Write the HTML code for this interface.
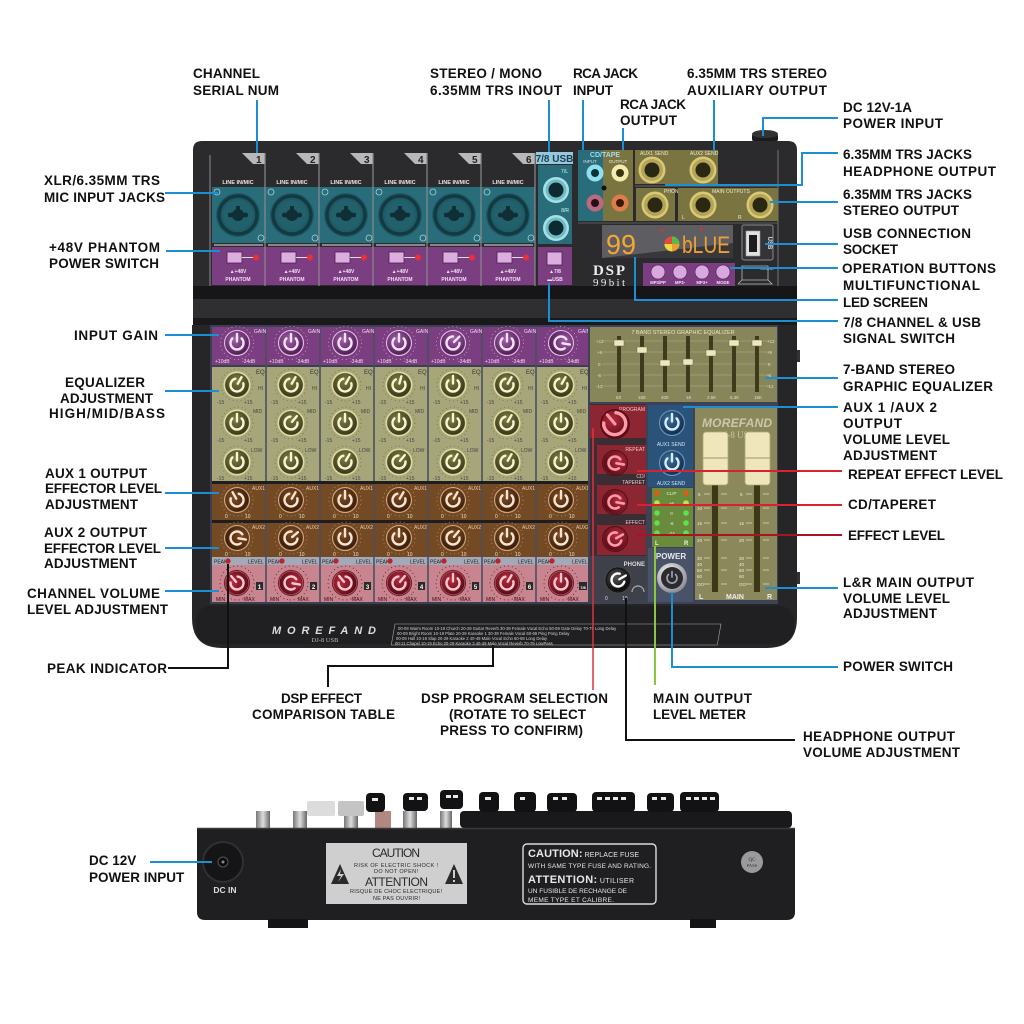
<!DOCTYPE html>
<html><head><meta charset="utf-8">
<style>
html,body{margin:0;padding:0;background:#fff;}
svg{display:block;}
.l{font-family:"Liberation Sans",Arial,sans-serif;font-weight:bold;font-size:13.5px;fill:#111;}
.c{font-family:"Liberation Sans",Arial,sans-serif;font-weight:bold;font-size:13.5px;fill:#111;}
.s{font-family:"Liberation Sans",Arial,sans-serif;font-size:5px;}
.sb{font-family:"Liberation Sans",Arial,sans-serif;font-size:6px;font-weight:bold;}
</style></head><body>
<svg width="1024" height="1024" viewBox="0 0 1024 1024" xmlns="http://www.w3.org/2000/svg" xmlns:xlink="http://www.w3.org/1999/xlink">
<defs>
<radialGradient id="gP" cx=".4" cy=".35" r=".7"><stop offset="0" stop-color="#a062a8"/><stop offset="1" stop-color="#4a1c50"/></radialGradient>
<radialGradient id="gE" cx=".4" cy=".35" r=".7"><stop offset="0" stop-color="#7c7c4a"/><stop offset="1" stop-color="#35351a"/></radialGradient>
<radialGradient id="gA" cx=".4" cy=".35" r=".7"><stop offset="0" stop-color="#7e4e26"/><stop offset="1" stop-color="#351c0a"/></radialGradient>
<radialGradient id="gL" cx=".4" cy=".35" r=".7"><stop offset="0" stop-color="#b82c3e"/><stop offset="1" stop-color="#560a16"/></radialGradient>
<radialGradient id="gB" cx=".4" cy=".35" r=".7"><stop offset="0" stop-color="#3c6e9e"/><stop offset="1" stop-color="#102c4a"/></radialGradient>
<radialGradient id="gK" cx=".4" cy=".35" r=".7"><stop offset="0" stop-color="#555"/><stop offset="1" stop-color="#050505"/></radialGradient>
<radialGradient id="gS" cx=".4" cy=".35" r=".75"><stop offset="0" stop-color="#ffffff"/><stop offset="1" stop-color="#7c7c84"/></radialGradient>
<linearGradient id="jk" x1="0" y1="0" x2="1" y2="0"><stop offset="0" stop-color="#777"/><stop offset=".5" stop-color="#ddd"/><stop offset="1" stop-color="#666"/></linearGradient>

<g id="kG">
<circle r="16.5" fill="none" stroke="#d8b0e0" stroke-width=".7" stroke-dasharray="1 3"/>
<circle r="12.5" fill="none" stroke="#e6c4ea" stroke-width="1"/>
<circle r="11.5" fill="url(#gP)"/>
<path d="M-4.6,-4.6A6.5,6.5 0 1 0 4.6,-4.6" fill="none" stroke="#fbe0fc" stroke-width="2.4" stroke-linecap="round"/>
<path d="M0,-1.5V-9" stroke="#fbe0fc" stroke-width="2.4" stroke-linecap="round"/>
</g>
<g id="kE">
<circle r="16" fill="none" stroke="#6b6a40" stroke-width=".7" stroke-dasharray="1 3"/>
<circle r="12.8" fill="none" stroke="#e2dea0" stroke-width="1.3"/>
<circle r="11.8" fill="url(#gE)"/>
<path d="M-4.6,-4.6A6.5,6.5 0 1 0 4.6,-4.6" fill="none" stroke="#fbf6c8" stroke-width="2.4" stroke-linecap="round"/>
<path d="M0,-1.5V-9" stroke="#fbf6c8" stroke-width="2.4" stroke-linecap="round"/>
</g>
<g id="kA">
<circle r="16" fill="none" stroke="#c89870" stroke-width=".7" stroke-dasharray="1 3"/>
<circle r="12.5" fill="none" stroke="#d8a880" stroke-width="1"/>
<circle r="11.5" fill="url(#gA)"/>
<path d="M-4.6,-4.6A6.5,6.5 0 1 0 4.6,-4.6" fill="none" stroke="#fde2cc" stroke-width="2.4" stroke-linecap="round"/>
<path d="M0,-1.5V-9" stroke="#fde2cc" stroke-width="2.4" stroke-linecap="round"/>
</g>
<g id="kL">
<circle r="17" fill="none" stroke="#5a1a22" stroke-width=".8" stroke-dasharray="1 3"/>
<circle r="12.5" fill="none" stroke="#7a2030" stroke-width="1.2"/>
<circle r="11.5" fill="url(#gL)"/>
<path d="M-4.6,-4.6A6.5,6.5 0 1 0 4.6,-4.6" fill="none" stroke="#ffc8d0" stroke-width="2.4" stroke-linecap="round"/>
<path d="M0,-1.5V-9" stroke="#ffc8d0" stroke-width="2.4" stroke-linecap="round"/>
</g>
<g id="kR">
<circle r="12.5" fill="none" stroke="#5a1018" stroke-width="1.2"/>
<circle r="11.5" fill="url(#gL)"/>
<path d="M-4.6,-4.6A6.5,6.5 0 1 0 4.6,-4.6" fill="none" stroke="#ff9aa8" stroke-width="2.6" stroke-linecap="round"/>
<path d="M0,-1.5V-9" stroke="#ff9aa8" stroke-width="2.6" stroke-linecap="round"/>
</g>
<g id="kB">
<circle r="12.5" fill="none" stroke="#6a96c0" stroke-width="1"/>
<circle r="11.5" fill="url(#gB)"/>
<path d="M-4.6,-4.6A6.5,6.5 0 1 0 4.6,-4.6" fill="none" stroke="#d8ecff" stroke-width="2.4" stroke-linecap="round"/>
<path d="M0,-1.5V-9" stroke="#d8ecff" stroke-width="2.4" stroke-linecap="round"/>
</g>
<g id="xlr">
<circle r="22" fill="#1f5a65"/>
<circle r="19" fill="none" stroke="#133a42" stroke-width="3.5"/>
<circle r="15" fill="#22606c"/>
<circle r="6" fill="#0f2e35"/>
<rect x="-10" y="-2.2" width="20" height="4.4" rx="2" fill="#0f2e35"/>
<rect x="-2" y="-9" width="4" height="6" fill="#0f2e35"/>
</g>
<g id="trs">
<circle r="13.5" fill="#d8c878"/>
<circle r="11" fill="#b4a455"/>
<circle r="7.5" fill="#2a2812"/>
</g>
<g id="trsB">
<circle r="13" fill="#a8dee6"/>
<circle r="10.5" fill="#6cbcc8"/>
<circle r="7.5" fill="#0d2a30"/>
</g>
</defs>

<rect width="1024" height="1024" fill="#fff"/>

<!-- ============ TOP VIEW UPPER BODY ============ -->
<rect x="752" y="133" width="26" height="9" rx="3" fill="#1b1b1d"/>
<ellipse cx="765" cy="134" rx="13" ry="4" fill="#333"/>
<path d="M193,150 Q193,141 202,141 L788,141 Q797,141 797,150 L797,290 L193,290 Z" fill="#2b2b2e"/>
<line x1="210" y1="155" x2="210" y2="287" stroke="#6c6c70" stroke-width="1.5"/>
<line x1="778" y1="150" x2="778" y2="287" stroke="#5c5c60" stroke-width="1.5"/>

<!-- channel tabs -->
<g fill="#b8b8b8">
<polygon points="242,153 265,153 265,164 253,164"/>
<polygon points="296,153 319,153 319,164 307,164"/>
<polygon points="350,153 373,153 373,164 361,164"/>
<polygon points="404,153 427,153 427,164 415,164"/>
<polygon points="458,153 481,153 481,164 469,164"/>
<polygon points="512,153 535,153 535,164 523,164"/>
</g>
<g class="sb" fill="#222" style="font-size:10px">
<text x="256" y="163">1</text><text x="310" y="163">2</text><text x="364" y="163">3</text><text x="418" y="163">4</text><text x="472" y="163">5</text><text x="526" y="163">6</text>
</g>
<g class="sb" fill="#e8e8e8" text-anchor="middle" style="font-size:5.5px">
<text x="238" y="184">LINE IN/MIC</text><text x="292" y="184">LINE IN/MIC</text><text x="346" y="184">LINE IN/MIC</text><text x="400" y="184">LINE IN/MIC</text><text x="454" y="184">LINE IN/MIC</text><text x="508" y="184">LINE IN/MIC</text>
</g>
<rect x="212" y="187" width="323" height="56" fill="#2a6d7a"/>
<use href="#xlr" x="238" y="215"/><use href="#xlr" x="292" y="215"/><use href="#xlr" x="346" y="215"/><use href="#xlr" x="400" y="215"/><use href="#xlr" x="454" y="215"/><use href="#xlr" x="508" y="215"/>
<g fill="none" stroke="#a8d4da" stroke-width=".8">
<circle cx="217" cy="192" r="3"/><circle cx="261" cy="238" r="3"/>
<circle cx="271" cy="192" r="3"/><circle cx="315" cy="238" r="3"/>
<circle cx="325" cy="192" r="3"/><circle cx="369" cy="238" r="3"/>
<circle cx="379" cy="192" r="3"/><circle cx="423" cy="238" r="3"/>
<circle cx="433" cy="192" r="3"/><circle cx="477" cy="238" r="3"/>
<circle cx="487" cy="192" r="3"/><circle cx="531" cy="238" r="3"/>
</g>
<rect x="212" y="247" width="323" height="38" fill="#7b3e80"/>
<g stroke="#a8a8a8" stroke-width="1.5">
<line x1="214" y1="245" x2="263" y2="245"/><line x1="268" y1="245" x2="317" y2="245"/><line x1="322" y1="245" x2="371" y2="245"/><line x1="376" y1="245" x2="425" y2="245"/><line x1="430" y1="245" x2="479" y2="245"/><line x1="484" y1="245" x2="533" y2="245"/>
</g>
<g stroke="#8a8a8e" stroke-width="1.2">
<line x1="265" y1="153" x2="265" y2="286"/><line x1="319" y1="153" x2="319" y2="286"/><line x1="373" y1="153" x2="373" y2="286"/><line x1="427" y1="153" x2="427" y2="286"/><line x1="481" y1="153" x2="481" y2="286"/><line x1="535" y1="153" x2="535" y2="286"/>
</g>
<g fill="#dcaee0" stroke="#4a2050" stroke-width=".8">
<rect x="227" y="252" width="15" height="11"/><rect x="281" y="252" width="15" height="11"/><rect x="335" y="252" width="15" height="11"/><rect x="389" y="252" width="15" height="11"/><rect x="443" y="252" width="15" height="11"/><rect x="497" y="252" width="15" height="11"/>
</g>
<g stroke="#ddd" stroke-width="1">
<line x1="242" y1="257.5" x2="254" y2="257.5"/><line x1="296" y1="257.5" x2="308" y2="257.5"/><line x1="350" y1="257.5" x2="362" y2="257.5"/><line x1="404" y1="257.5" x2="416" y2="257.5"/><line x1="458" y1="257.5" x2="470" y2="257.5"/><line x1="512" y1="257.5" x2="524" y2="257.5"/>
</g>
<g fill="#e8303a">
<circle cx="256" cy="257.5" r="3"/><circle cx="310" cy="257.5" r="3"/><circle cx="364" cy="257.5" r="3"/><circle cx="418" cy="257.5" r="3"/><circle cx="472" cy="257.5" r="3"/><circle cx="526" cy="257.5" r="3"/>
</g>
<g class="sb" fill="#f0e0f2" text-anchor="middle" style="font-size:5px">
<text x="238" y="273">▲+48V</text><text x="292" y="273">▲+48V</text><text x="346" y="273">▲+48V</text><text x="400" y="273">▲+48V</text><text x="454" y="273">▲+48V</text><text x="508" y="273">▲+48V</text>
<text x="238" y="281">PHANTOM</text><text x="292" y="281">PHANTOM</text><text x="346" y="281">PHANTOM</text><text x="400" y="281">PHANTOM</text><text x="454" y="281">PHANTOM</text><text x="508" y="281">PHANTOM</text>
</g>

<!-- 7/8 USB column -->
<rect x="536" y="152" width="37" height="12" fill="#94c8da"/>
<text x="554.5" y="162" class="sb" text-anchor="middle" fill="#1b3f55" style="font-size:10px">7/8 USB</text>
<rect x="538" y="165" width="34" height="79" fill="#2a6d7a"/>
<use href="#trsB" x="556" y="190"/><use href="#trsB" x="556" y="228"/>
<text x="568" y="173" class="s" fill="#cfe" text-anchor="end">7/L</text>
<text x="569" y="212" class="s" fill="#cfe" text-anchor="end">8/R</text>
<rect x="538" y="247" width="34" height="38" fill="#7b3e80"/>
<rect x="547" y="252" width="15" height="13" fill="#dcaee0" stroke="#4a2050" stroke-width=".8"/>
<text x="555" y="273" class="sb" text-anchor="middle" fill="#f0e0f2" style="font-size:5px">▲7/8</text>
<text x="555" y="281" class="sb" text-anchor="middle" fill="#f0e0f2" style="font-size:5px">▬USB</text>

<!-- CD/TAPE -->
<rect x="578" y="150" width="25" height="71" fill="#2a6d7a"/>
<rect x="603" y="150" width="30" height="71" fill="#7a7540"/>
<text x="605" y="157" class="sb" text-anchor="middle" fill="#a8d8e4" style="font-size:7px">CD/TAPE</text>
<text x="590" y="163" class="s" text-anchor="middle" fill="#dde" style="font-size:4.5px">INPUT</text>
<text x="618" y="163" class="s" text-anchor="middle" fill="#eed" style="font-size:4.5px">OUTPUT</text>
<circle cx="595" cy="173" r="8.5" fill="#8fe0ee"/><circle cx="595" cy="173" r="4" fill="#0e3038"/>
<circle cx="595" cy="203" r="8.5" fill="#b86a80"/><circle cx="595" cy="203" r="4" fill="#2a0e16"/>
<circle cx="620" cy="173" r="8.5" fill="#f3ecae"/><circle cx="620" cy="173" r="4" fill="#3a3410"/>
<circle cx="620" cy="203" r="8.5" fill="#dc7e4c"/><circle cx="620" cy="203" r="4" fill="#3a1808"/>
<circle cx="604" cy="188" r="2.5" fill="#111"/>

<!-- AUX sends / phone / main -->
<rect x="635" y="150" width="83" height="34" fill="#7a7540"/>
<use href="#trs" x="652" y="170"/><use href="#trs" x="703" y="170"/>
<text x="640" y="155" class="s" fill="#eee8c8">AUX1 SEND</text>
<text x="690" y="155" class="s" fill="#eee8c8">AUX2 SEND</text>
<line x1="635" y1="186" x2="778" y2="186" stroke="#6a6a6e" stroke-width="1"/>
<rect x="636" y="188" width="39" height="33" fill="#7a7540"/>
<use href="#trs" x="655" y="205"/>
<text x="664" y="193" class="s" fill="#eee8c8">PHONE</text>
<rect x="678" y="188" width="100" height="33" fill="#7a7540"/>
<use href="#trs" x="703" y="205"/><use href="#trs" x="760" y="205"/>
<text x="712" y="193" class="s" fill="#eee8c8">MAIN OUTPUTS</text>
<text x="682" y="219" class="s" fill="#eee8c8">L</text><text x="738" y="219" class="s" fill="#eee8c8">R</text>
<line x1="578" y1="223" x2="778" y2="223" stroke="#5a5a5e" stroke-width="1"/>

<!-- display -->
<rect x="602" y="225" width="131" height="33" fill="#38383c"/>
<polygon points="602,225 733,225 733,243 602,258" fill="#5e5e62"/>
<text x="606" y="254" class="t" font-family="Liberation Sans, sans-serif" font-size="28" fill="#f4a830" textLength="30" lengthAdjust="spacingAndGlyphs">99</text>
<circle cx="672" cy="244" r="7.5" fill="#e8a030"/>
<path d="M672,244 L672,236.5 A7.5,7.5 0 0 1 679.5,244 Z" fill="#5cb848"/>
<path d="M672,244 L664.5,244 A7.5,7.5 0 0 1 672,236.5 Z" fill="#e84838"/>
<path d="M672,244 L672,251.5 A7.5,7.5 0 0 1 664.5,244 Z" fill="#f0d840"/>
<text x="682" y="253" font-family="Liberation Sans, sans-serif" font-size="24" fill="#f0a030" textLength="48" lengthAdjust="spacingAndGlyphs">bLUE</text>
<circle cx="662" cy="230" r="1.3" fill="#e03030"/><circle cx="701" cy="229" r="1.3" fill="#e03030"/>
<rect x="742" y="225" width="31" height="35" rx="2" fill="#333338" stroke="#8a8a8e" stroke-width="1"/>
<rect x="746" y="231" width="14" height="25" fill="#e0e0e0" stroke="#999" stroke-width=".6"/>
<rect x="749" y="235" width="8" height="17" fill="#1c1c1c"/>
<text x="768" y="243" class="sb" fill="#ddd" text-anchor="middle" transform="rotate(90 768 243)" style="font-size:6px">USB</text>
<text x="593" y="275" font-family="Liberation Serif, serif" font-weight="bold" font-size="15" fill="#eee" textLength="32">DSP</text>
<text x="593" y="286" font-family="Liberation Serif, serif" font-size="11" fill="#eee" textLength="32">99bit</text>
<rect x="643" y="263" width="92" height="23" fill="#7b3e80"/>
<g fill="#d8a8de" stroke="#5a2a60" stroke-width=".7">
<circle cx="658" cy="272" r="7"/><circle cx="680" cy="272" r="7"/><circle cx="702" cy="272" r="7"/><circle cx="723" cy="272" r="7"/>
</g>
<g class="sb" fill="#f2e0f4" text-anchor="middle" style="font-size:4.3px">
<text x="658" y="284">MP3/PP</text><text x="680" y="284">MP3-</text><text x="702" y="284">MP3+</text><text x="723" y="284">MODE</text>
</g>
<path d="M742,266 L768,266 L768,280 L742,280 Z M738,284 L772,284 L768,280 M742,280 L738,284" fill="none" stroke="#bbb" stroke-width=".8"/>
<text x="760" y="270" class="s" fill="#ccc" style="font-size:3.8px">SOUND</text>

<!-- lip -->
<rect x="193" y="286" width="604" height="13" fill="#161618"/>
<rect x="193" y="299" width="604" height="19" fill="#2f2f32"/>
<rect x="193" y="318" width="604" height="8" fill="#19191b"/>

<!-- ============ LOWER BODY ============ -->
<path d="M192,325 L797,325 L797,618 Q797,648 767,648 L222,648 Q192,648 192,618 Z" fill="#262629"/>
<rect x="797" y="350" width="3" height="12" fill="#333"/><rect x="797" y="572" width="3" height="12" fill="#333"/>
<rect x="210" y="325" width="380" height="279" fill="#3b4050"/>
<rect x="212" y="327" width="376" height="38" fill="#7b3e80"/>
<rect x="212" y="367" width="376" height="114" fill="#a7a67a"/>
<rect x="212" y="484" width="376" height="36" fill="#734a24"/>
<rect x="212" y="523" width="376" height="34" fill="#734a24"/>
<rect x="212" y="557" width="376" height="8" fill="#a3a9b8"/>
<rect x="212" y="565" width="376" height="37" fill="#c8848f"/>
<g stroke="#4a5060" stroke-width="1.6">
<line x1="266" y1="327" x2="266" y2="602"/><line x1="320" y1="327" x2="320" y2="602"/><line x1="374" y1="327" x2="374" y2="602"/><line x1="428" y1="327" x2="428" y2="602"/><line x1="482" y1="327" x2="482" y2="602"/><line x1="536" y1="327" x2="536" y2="602"/>
</g>
<rect x="212" y="481" width="376" height="3" fill="#1e1e20"/>
<rect x="212" y="520" width="376" height="3" fill="#1e1e20"/>

<!-- channel small labels -->
<text class="s" y="333" fill="#f0d8f2"><tspan x="254">GAIN</tspan><tspan x="308">GAIN</tspan><tspan x="362">GAIN</tspan><tspan x="416">GAIN</tspan><tspan x="470">GAIN</tspan><tspan x="524">GAIN</tspan><tspan x="578">GAIN</tspan></text>
<text class="s" y="363" fill="#f0d8f2"><tspan x="215">+10dB</tspan><tspan x="242">-34dB</tspan><tspan x="269">+10dB</tspan><tspan x="296">-34dB</tspan><tspan x="323">+10dB</tspan><tspan x="350">-34dB</tspan><tspan x="377">+10dB</tspan><tspan x="404">-34dB</tspan><tspan x="431">+10dB</tspan><tspan x="458">-34dB</tspan><tspan x="485">+10dB</tspan><tspan x="512">-34dB</tspan><tspan x="539">+10dB</tspan><tspan x="566">-34dB</tspan></text>
<text class="s" y="374" fill="#333" style="font-size:6px"><tspan x="256">EQ</tspan><tspan x="310">EQ</tspan><tspan x="364">EQ</tspan><tspan x="418">EQ</tspan><tspan x="472">EQ</tspan><tspan x="526">EQ</tspan><tspan x="580">EQ</tspan></text>
<text class="s" y="390" fill="#444"><tspan x="258">HI</tspan><tspan x="312">HI</tspan><tspan x="366">HI</tspan><tspan x="420">HI</tspan><tspan x="474">HI</tspan><tspan x="528">HI</tspan><tspan x="582">HI</tspan></text>
<text class="s" y="413" fill="#444"><tspan x="253">MID</tspan><tspan x="307">MID</tspan><tspan x="361">MID</tspan><tspan x="415">MID</tspan><tspan x="469">MID</tspan><tspan x="523">MID</tspan><tspan x="577">MID</tspan></text>
<text class="s" y="452" fill="#444"><tspan x="251">LOW</tspan><tspan x="305">LOW</tspan><tspan x="359">LOW</tspan><tspan x="413">LOW</tspan><tspan x="467">LOW</tspan><tspan x="521">LOW</tspan><tspan x="575">LOW</tspan></text>
<text class="s" y="404" fill="#444"><tspan x="217">-15</tspan><tspan x="244">+15</tspan><tspan x="271">-15</tspan><tspan x="298">+15</tspan><tspan x="325">-15</tspan><tspan x="352">+15</tspan><tspan x="379">-15</tspan><tspan x="406">+15</tspan><tspan x="433">-15</tspan><tspan x="460">+15</tspan><tspan x="487">-15</tspan><tspan x="514">+15</tspan><tspan x="541">-15</tspan><tspan x="568">+15</tspan></text>
<text class="s" y="442" fill="#444"><tspan x="217">-15</tspan><tspan x="244">+15</tspan><tspan x="271">-15</tspan><tspan x="298">+15</tspan><tspan x="325">-15</tspan><tspan x="352">+15</tspan><tspan x="379">-15</tspan><tspan x="406">+15</tspan><tspan x="433">-15</tspan><tspan x="460">+15</tspan><tspan x="487">-15</tspan><tspan x="514">+15</tspan><tspan x="541">-15</tspan><tspan x="568">+15</tspan></text>
<text class="s" y="480" fill="#444"><tspan x="217">-15</tspan><tspan x="244">+15</tspan><tspan x="271">-15</tspan><tspan x="298">+15</tspan><tspan x="325">-15</tspan><tspan x="352">+15</tspan><tspan x="379">-15</tspan><tspan x="406">+15</tspan><tspan x="433">-15</tspan><tspan x="460">+15</tspan><tspan x="487">-15</tspan><tspan x="514">+15</tspan><tspan x="541">-15</tspan><tspan x="568">+15</tspan></text>
<text class="s" y="490" fill="#e8c8a8"><tspan x="252">AUX1</tspan><tspan x="306">AUX1</tspan><tspan x="360">AUX1</tspan><tspan x="414">AUX1</tspan><tspan x="468">AUX1</tspan><tspan x="522">AUX1</tspan><tspan x="576">AUX1</tspan></text>
<text class="s" y="529" fill="#e8c8a8"><tspan x="252">AUX2</tspan><tspan x="306">AUX2</tspan><tspan x="360">AUX2</tspan><tspan x="414">AUX2</tspan><tspan x="468">AUX2</tspan><tspan x="522">AUX2</tspan><tspan x="576">AUX2</tspan></text>
<text class="s" y="518" fill="#f0dcc8"><tspan x="225">0</tspan><tspan x="245">10</tspan><tspan x="279">0</tspan><tspan x="299">10</tspan><tspan x="333">0</tspan><tspan x="353">10</tspan><tspan x="387">0</tspan><tspan x="407">10</tspan><tspan x="441">0</tspan><tspan x="461">10</tspan><tspan x="495">0</tspan><tspan x="515">10</tspan><tspan x="549">0</tspan><tspan x="569">10</tspan></text>
<text class="s" y="556" fill="#f0dcc8"><tspan x="225">0</tspan><tspan x="245">10</tspan><tspan x="279">0</tspan><tspan x="299">10</tspan><tspan x="333">0</tspan><tspan x="353">10</tspan><tspan x="387">0</tspan><tspan x="407">10</tspan><tspan x="441">0</tspan><tspan x="461">10</tspan><tspan x="495">0</tspan><tspan x="515">10</tspan><tspan x="549">0</tspan><tspan x="569">10</tspan></text>
<text class="s" y="563.5" fill="#222"><tspan x="214">PEAK</tspan><tspan x="248">LEVEL</tspan><tspan x="268">PEAK</tspan><tspan x="302">LEVEL</tspan><tspan x="322">PEAK</tspan><tspan x="356">LEVEL</tspan><tspan x="376">PEAK</tspan><tspan x="410">LEVEL</tspan><tspan x="430">PEAK</tspan><tspan x="464">LEVEL</tspan><tspan x="484">PEAK</tspan><tspan x="518">LEVEL</tspan><tspan x="538">PEAK</tspan><tspan x="572">LEVEL</tspan></text>
<text class="s" y="601" fill="#3a1018"><tspan x="216">MIN</tspan><tspan x="244">MAX</tspan><tspan x="270">MIN</tspan><tspan x="298">MAX</tspan><tspan x="324">MIN</tspan><tspan x="352">MAX</tspan><tspan x="378">MIN</tspan><tspan x="406">MAX</tspan><tspan x="432">MIN</tspan><tspan x="460">MAX</tspan><tspan x="486">MIN</tspan><tspan x="514">MAX</tspan><tspan x="540">MIN</tspan><tspan x="568">MAX</tspan></text>
<g fill="#2a2a2a">
<rect x="256" y="582" width="7" height="8"/><rect x="310" y="582" width="7" height="8"/><rect x="364" y="582" width="7" height="8"/><rect x="418" y="582" width="7" height="8"/><rect x="472" y="582" width="7" height="8"/><rect x="526" y="582" width="7" height="8"/><rect x="579" y="582" width="8" height="8"/>
</g>
<text class="sb" y="589" fill="#fff" text-anchor="middle"><tspan x="259.5">1</tspan><tspan x="313.5">2</tspan><tspan x="367.5">3</tspan><tspan x="421.5">4</tspan><tspan x="475.5">5</tspan><tspan x="529.5">6</tspan><tspan x="583" style="font-size:4px">7/8</tspan></text>
<g fill="#c0202a">
<circle cx="228" cy="561" r="2.6"/><circle cx="282" cy="561" r="2.6"/><circle cx="336" cy="561" r="2.6"/><circle cx="390" cy="561" r="2.6"/><circle cx="444" cy="561" r="2.6"/><circle cx="498" cy="561" r="2.6"/><circle cx="552" cy="561" r="2.6"/>
</g>

<!-- knobs -->
<use href="#kG" transform="translate(237,343)"/><use href="#kG" transform="translate(291,343)"/><use href="#kG" transform="translate(345,343)"/><use href="#kG" transform="translate(399,343)"/><use href="#kG" transform="translate(453,343) rotate(45)"/><use href="#kG" transform="translate(507,343)"/><use href="#kG" transform="translate(561,343) rotate(100)"/>
<use href="#kE" transform="translate(237,385) rotate(30)"/><use href="#kE" transform="translate(291,385) rotate(30)"/><use href="#kE" transform="translate(345,385) rotate(30)"/><use href="#kE" transform="translate(399,385) rotate(15)"/><use href="#kE" transform="translate(453,385)"/><use href="#kE" transform="translate(507,385) rotate(30)"/><use href="#kE" transform="translate(561,385) rotate(30)"/>
<use href="#kE" transform="translate(237,423)"/><use href="#kE" transform="translate(291,423) rotate(40)"/><use href="#kE" transform="translate(345,423)"/><use href="#kE" transform="translate(399,423)"/><use href="#kE" transform="translate(453,423)"/><use href="#kE" transform="translate(507,423) rotate(30)"/><use href="#kE" transform="translate(561,423)"/>
<use href="#kE" transform="translate(237,462)"/><use href="#kE" transform="translate(291,462)"/><use href="#kE" transform="translate(345,462) rotate(30)"/><use href="#kE" transform="translate(399,462) rotate(40)"/><use href="#kE" transform="translate(453,462) rotate(30)"/><use href="#kE" transform="translate(507,462) rotate(30)"/><use href="#kE" transform="translate(561,462)"/>
<use href="#kA" transform="translate(237,500) rotate(-30)"/><use href="#kA" transform="translate(291,500) rotate(30)"/><use href="#kA" transform="translate(345,500)"/><use href="#kA" transform="translate(399,500) rotate(30)"/><use href="#kA" transform="translate(453,500) rotate(30)"/><use href="#kA" transform="translate(507,500)"/><use href="#kA" transform="translate(561,500)"/>
<use href="#kA" transform="translate(237,538) rotate(100)"/><use href="#kA" transform="translate(291,538) rotate(50)"/><use href="#kA" transform="translate(345,538)"/><use href="#kA" transform="translate(399,538)"/><use href="#kA" transform="translate(453,538) rotate(40)"/><use href="#kA" transform="translate(507,538)"/><use href="#kA" transform="translate(561,538)"/>
<use href="#kL" transform="translate(237,583) rotate(-40)"/><use href="#kL" transform="translate(291,583) rotate(100)"/><use href="#kL" transform="translate(345,583) rotate(-40)"/><use href="#kL" transform="translate(399,583) rotate(40)"/><use href="#kL" transform="translate(453,583)"/><use href="#kL" transform="translate(507,583) rotate(30)"/><use href="#kL" transform="translate(561,583)"/>

<!-- graphic EQ -->
<rect x="588" y="325" width="190" height="279" fill="#3d4354"/>
<rect x="590" y="327" width="187" height="75" fill="#87855a"/>
<text x="683" y="334" class="s" text-anchor="middle" fill="#e8e6bc" style="font-size:5.5px">7 BAND STEREO GRAPHIC EQUALIZER</text>
<g stroke="#b5b38a" stroke-width=".6">
<line x1="602" y1="341" x2="770" y2="341"/><line x1="602" y1="352" x2="770" y2="352"/><line x1="602" y1="364" x2="770" y2="364"/><line x1="602" y1="375" x2="770" y2="375"/><line x1="602" y1="386" x2="770" y2="386"/>
</g>
<g fill="#3d3b1c">
<rect x="617" y="336" width="4" height="56"/><rect x="640" y="336" width="4" height="56"/><rect x="663" y="336" width="4" height="56"/><rect x="686" y="336" width="4" height="56"/><rect x="709" y="336" width="4" height="56"/><rect x="732" y="336" width="4" height="56"/><rect x="755" y="336" width="4" height="56"/>
</g>
<g fill="#efe7bc" stroke="#6a6a50" stroke-width=".5">
<rect x="614" y="340" width="10" height="6"/><rect x="637" y="347" width="10" height="6"/><rect x="660" y="360" width="10" height="6"/><rect x="683" y="359" width="10" height="6"/><rect x="706" y="350" width="10" height="6"/><rect x="729" y="340" width="10" height="6"/><rect x="752" y="340" width="10" height="6"/>
</g>
<g class="s" fill="#e0dec0" style="font-size:4.5px">
<text x="596" y="343">+12</text><text x="597" y="354">+6</text><text x="598" y="366">0</text><text x="597" y="377">-6</text><text x="596" y="388">-12</text>
<text x="767" y="343">+12</text><text x="767" y="354">+6</text><text x="768" y="366">0</text><text x="767" y="377">-6</text><text x="767" y="388">-12</text>
<text x="616" y="399">63</text><text x="638" y="399">160</text><text x="661" y="399">400</text><text x="686" y="399">1K</text><text x="707" y="399">2.5K</text><text x="730" y="399">6.3K</text><text x="754" y="399">16K</text>
</g>

<!-- red section -->
<rect x="590" y="404" width="56" height="198" fill="#3a2d33"/>
<rect x="590" y="405" width="56" height="33" fill="#8c2632"/>
<rect x="597" y="445" width="49" height="29" fill="#8c2632"/>
<rect x="597" y="485" width="49" height="29" fill="#8c2632"/>
<rect x="597" y="525" width="49" height="30" fill="#8c2632"/>
<g class="s" fill="#f4c4c8" text-anchor="end">
<text x="645" y="411">PROGRAM</text><text x="645" y="451">REPEAT</text><text x="645" y="478">CD/</text><text x="645" y="484">TAPERET</text><text x="645" y="524">EFFECT</text>
</g>
<circle cx="615" cy="424" r="15" fill="#5a0c16"/>
<circle cx="615" cy="424" r="13.5" fill="url(#gL)"/>
<path d="M607,416 A11,11 0 1 0 623,416" fill="none" stroke="#ff9aa8" stroke-width="3.4" stroke-linecap="round" transform="rotate(-40 615 424)"/>
<path d="M615,424 V412" stroke="#ff9aa8" stroke-width="3" stroke-linecap="round" transform="rotate(-40 615 424)"/>
<use href="#kR" transform="translate(615,463) rotate(100)"/>
<use href="#kR" transform="translate(615,502) rotate(100)"/>
<use href="#kR" transform="translate(615,539) rotate(60)"/>
<rect x="590" y="556" width="56" height="46" fill="#3e404a"/>
<text x="645" y="566" class="sb" text-anchor="end" fill="#ddd" style="font-size:6px">PHONE</text>
<circle cx="618" cy="580" r="13" fill="#1a1a1c" stroke="#555" stroke-width=".6"/>
<circle cx="618" cy="580" r="11" fill="url(#gK)"/>
<path d="M613.4,575.4A6.5,6.5 0 1 0 622.6,575.4" fill="none" stroke="#fff" stroke-width="2.4" stroke-linecap="round" transform="rotate(60 618 580)"/>
<path d="M618,578.5V571" stroke="#fff" stroke-width="2.4" stroke-linecap="round" transform="rotate(60 618 580)"/>
<path d="M632,592 A6,6 0 0 1 644,592" fill="none" stroke="#aaa" stroke-width="1.2"/>
<text class="s" y="600" fill="#ddd"><tspan x="605">0</tspan><tspan x="622">10</tspan></text>

<!-- blue -->
<rect x="648" y="405" width="45" height="82" fill="#2b5379"/>
<use href="#kB" transform="translate(672,423)"/>
<use href="#kB" transform="translate(672,463)"/>
<text class="s" x="671" y="446" text-anchor="middle" fill="#cfe4f4">AUX1 SEND</text>
<text class="s" x="671" y="485" text-anchor="middle" fill="#cfe4f4">AUX2 SEND</text>
<rect x="652" y="488" width="41" height="59" fill="#6a8a3c"/>
<g fill="#5ee050">
<circle cx="657" cy="503" r="2.8" fill="#c0e050"/><circle cx="686" cy="503" r="2.8" fill="#c0e050"/>
<circle cx="657" cy="513" r="2.8"/><circle cx="686" cy="513" r="2.8"/>
<circle cx="657" cy="523" r="2.8"/><circle cx="686" cy="523" r="2.8"/>
<circle cx="657" cy="533" r="2.8"/><circle cx="686" cy="533" r="2.8"/>
</g>
<circle cx="657" cy="493" r="2.8" fill="#e05a1a"/><circle cx="686" cy="493" r="2.8" fill="#e05a1a"/>
<g class="s" text-anchor="middle" fill="#e8f0d8" style="font-size:4.5px">
<text x="671.5" y="495">CLIP</text><text x="671.5" y="505">+6</text><text x="671.5" y="515">0</text><text x="671.5" y="525">-6</text><text x="671.5" y="535">-24</text>
</g>
<text class="sb" y="545" fill="#eee"><tspan x="655">L</tspan><tspan x="684">R</tspan></text>
<rect x="648" y="548" width="45" height="54" fill="#485368"/>
<text x="671" y="559" class="sb" text-anchor="middle" fill="#e8e8f0" style="font-size:8px">POWER</text>
<circle cx="672" cy="578" r="15" fill="url(#gS)"/>
<circle cx="672" cy="578" r="11" fill="#2a2a30"/>
<path d="M668.5,574.5A5,5 0 1 0 675.5,574.5" fill="none" stroke="#9a9aa0" stroke-width="1.8" stroke-linecap="round"/>
<path d="M672,577V571.5" stroke="#9a9aa0" stroke-width="1.8" stroke-linecap="round"/>

<!-- main faders -->
<rect x="695" y="408" width="82" height="192" fill="#8b895c"/>
<text x="702" y="427" font-family="Liberation Sans, sans-serif" font-weight="bold" font-style="italic" font-size="12" fill="#cac8a8" textLength="70">MOREFAND</text>
<text x="736" y="438" text-anchor="middle" font-family="Liberation Serif, serif" font-size="9" fill="#cac8a8">DJ-8 USB</text>
<g stroke="#d8d6b0" stroke-width=".8">
<line x1="704" y1="478" x2="710" y2="478"/><line x1="721" y1="478" x2="727" y2="478"/><line x1="746" y1="478" x2="752" y2="478"/><line x1="763" y1="478" x2="769" y2="478"/>
<line x1="704" y1="494" x2="710" y2="494"/><line x1="721" y1="494" x2="727" y2="494"/><line x1="746" y1="494" x2="752" y2="494"/><line x1="763" y1="494" x2="769" y2="494"/>
<line x1="704" y1="508" x2="710" y2="508"/><line x1="721" y1="508" x2="727" y2="508"/><line x1="746" y1="508" x2="752" y2="508"/><line x1="763" y1="508" x2="769" y2="508"/>
<line x1="704" y1="523" x2="710" y2="523"/><line x1="721" y1="523" x2="727" y2="523"/><line x1="746" y1="523" x2="752" y2="523"/><line x1="763" y1="523" x2="769" y2="523"/>
<line x1="704" y1="540" x2="710" y2="540"/><line x1="721" y1="540" x2="727" y2="540"/><line x1="746" y1="540" x2="752" y2="540"/><line x1="763" y1="540" x2="769" y2="540"/>
<line x1="704" y1="558" x2="710" y2="558"/><line x1="721" y1="558" x2="727" y2="558"/><line x1="746" y1="558" x2="752" y2="558"/><line x1="763" y1="558" x2="769" y2="558"/>
<line x1="704" y1="570" x2="710" y2="570"/><line x1="721" y1="570" x2="727" y2="570"/><line x1="746" y1="570" x2="752" y2="570"/><line x1="763" y1="570" x2="769" y2="570"/>
<line x1="704" y1="584" x2="710" y2="584"/><line x1="721" y1="584" x2="727" y2="584"/><line x1="746" y1="584" x2="752" y2="584"/><line x1="763" y1="584" x2="769" y2="584"/>
</g>
<g class="s" fill="#ecebd0" style="font-size:4.5px">
<text x="698" y="496">5</text><text x="697" y="510">10</text><text x="697" y="525">15</text><text x="697" y="542">20</text><text x="697" y="560">30</text><text x="697" y="566">40</text><text x="697" y="572">50</text><text x="697" y="578">60</text><text x="697" y="586">OO</text>
<text x="740" y="496">5</text><text x="739" y="510">10</text><text x="739" y="525">15</text><text x="739" y="542">20</text><text x="739" y="560">30</text><text x="739" y="566">40</text><text x="739" y="572">50</text><text x="739" y="578">60</text><text x="739" y="586">OO</text>
</g>
<rect x="712" y="474" width="6" height="118" fill="#3c3818"/>
<rect x="754" y="474" width="6" height="118" fill="#3c3818"/>
<rect x="703" y="432" width="25" height="53" rx="3" fill="#efe6bb" stroke="#b0a678" stroke-width=".8"/>
<line x1="703" y1="458" x2="728" y2="458" stroke="#b0a678" stroke-width="1.2"/>
<rect x="745" y="432" width="25" height="53" rx="3" fill="#efe6bb" stroke="#b0a678" stroke-width=".8"/>
<line x1="745" y1="458" x2="770" y2="458" stroke="#b0a678" stroke-width="1.2"/>
<text class="sb" y="599" fill="#eee" style="font-size:7px"><tspan x="699">L</tspan><tspan x="726">MAIN</tspan><tspan x="767">R</tspan></text>

<!-- front strip -->
<rect x="196" y="606" width="598" height="38" rx="14" fill="#202023"/>
<text x="272" y="634" font-family="Liberation Sans, sans-serif" font-weight="bold" font-style="italic" font-size="11" fill="#ddd" textLength="104">MOREFAND</text>
<text x="325" y="642" text-anchor="middle" font-family="Liberation Serif, serif" font-size="6.5" fill="#bbb">DJ-8 USB</text>
<g transform="skewX(-10)" >
<rect x="505" y="624" width="326" height="21" fill="none" stroke="#aaa" stroke-width=".6"/>
</g>
<g class="s" fill="#cfcfcf" style="font-size:4.2px">
<text x="398" y="630">00-09 Warm Room   10-19 Church     20-29 Guitar Reverb   30-39 Female Vocal Echo   50-59 Gate Delay   70-79 Long Delay</text>
<text x="397" y="635">00-09 Bright Room   10-19 Plate     20-29 Karaoke 1   30-39 Female Vocal   60-69 Ping Pong Delay</text>
<text x="396" y="640">00-09 Hall   10-19 Slap    20-29 Karaoke 2   40-49 Male Vocal Echo   60-69 Long Delay</text>
<text x="395" y="645">00-11 Chapel   10-19 Echo   20-29 Karaoke 3   40-49 Male Vocal Reverb   70-79 LowPass</text>
</g>

<!-- ============ REAR VIEW ============ -->
<rect x="460" y="811" width="332" height="17" rx="4" fill="#19191b"/>
<g fill="url(#jk)">
<rect x="256" y="811" width="14" height="17"/><rect x="293" y="811" width="14" height="17"/><rect x="344" y="811" width="14" height="17"/><rect x="403" y="811" width="14" height="17"/><rect x="440" y="811" width="12" height="17"/>
</g>
<rect x="375" y="811" width="16" height="17" fill="#b08880"/>
<rect x="307" y="801" width="28" height="15" rx="2" fill="#dcdcdc"/>
<rect x="338" y="801" width="26" height="15" rx="2" fill="#c4c4c4"/>
<g fill="#121214">
<rect x="366" y="793" width="19" height="19" rx="4"/>
<rect x="403" y="793" width="25" height="18" rx="4"/>
<rect x="440" y="790" width="23" height="19" rx="4"/>
<rect x="479" y="792" width="20" height="20" rx="4"/>
<rect x="514" y="792" width="22" height="20" rx="4"/>
<rect x="547" y="793" width="30" height="19" rx="4"/>
<rect x="592" y="792" width="43" height="20" rx="4"/>
<rect x="647" y="793" width="27" height="19" rx="4"/>
<rect x="680" y="792" width="39" height="20" rx="4"/>
</g>
<g fill="#e8e8e8">
<rect x="372" y="798" width="6" height="3"/><rect x="409" y="797" width="5" height="3"/><rect x="417" y="797" width="5" height="3"/><rect x="446" y="795" width="5" height="3"/><rect x="453" y="795" width="5" height="3"/>
<rect x="485" y="797" width="6" height="3"/><rect x="520" y="797" width="5" height="3"/><rect x="553" y="797" width="5" height="3"/><rect x="562" y="797" width="5" height="3"/>
<rect x="597" y="797" width="5" height="3"/><rect x="605" y="797" width="5" height="3"/><rect x="613" y="797" width="5" height="3"/><rect x="621" y="797" width="5" height="3"/>
<rect x="652" y="797" width="5" height="3"/><rect x="661" y="797" width="5" height="3"/>
<rect x="686" y="797" width="5" height="3"/><rect x="694" y="797" width="5" height="3"/><rect x="702" y="797" width="5" height="3"/><rect x="710" y="797" width="5" height="3"/>
</g>
<path d="M197,828 L795,828 L795,912 Q795,920 787,920 L205,920 Q197,920 197,912 Z" fill="#1f1f22"/>
<line x1="197" y1="828.5" x2="795" y2="828.5" stroke="#3a3a3e" stroke-width="1.5"/>
<rect x="268" y="919" width="40" height="9" fill="#141416"/>
<rect x="690" y="919" width="26" height="9" fill="#141416"/>
<circle cx="223" cy="862" r="20" fill="#151517" stroke="#303034" stroke-width="2"/>
<circle cx="223" cy="862" r="5" fill="#0a0a0a" stroke="#555" stroke-width="1"/>
<circle cx="223" cy="862" r="1.5" fill="#888"/>
<text x="225" y="893" text-anchor="middle" class="sb" fill="#ddd" style="font-size:8.5px">DC IN</text>

<rect x="326" y="843" width="141" height="61" fill="#cfcfd0"/>
<g font-family="Liberation Sans, sans-serif" fill="#2a2a2a">
<text x="372" y="857" font-size="12" textLength="48">CAUTION</text>
<text x="354" y="867" font-size="5.5" textLength="84">RISK OF ELECTRIC SHOCK !</text>
<text x="374" y="873" font-size="5.5" textLength="44">DO NOT OPEN!</text>
<text x="365" y="886" font-size="12" textLength="63">ATTENTION</text>
<text x="350" y="893" font-size="5.5" textLength="92">RISQUE DE CHOC ELECTRIQUE!</text>
<text x="373" y="900" font-size="5.5" textLength="47">NE PAS OUVRIR!</text>
</g>
<polygon points="340,864 349,884 331,884" fill="#2a2a2a"/>
<polygon points="454,864 463,884 445,884" fill="#2a2a2a"/>
<path d="M341,869 L337,876 L341,876 L338,882 L344,874 L340,874 Z" fill="#cfcfd0"/>
<rect x="453" y="870" width="2" height="8" fill="#cfcfd0"/><rect x="453" y="880" width="2" height="2" fill="#cfcfd0"/>

<rect x="523" y="844" width="133" height="60" rx="4" fill="none" stroke="#dcdcdc" stroke-width="1.4"/>
<g font-family="Liberation Sans, sans-serif" fill="#e8e8e8">
<text x="528" y="857" textLength="111"><tspan font-weight="bold" font-size="11">CAUTION:</tspan><tspan font-size="7"> REPLACE FUSE</tspan></text>
<text x="528" y="868" font-size="6.5" textLength="123">WITH SAME TYPE FUSE AND RATING.</text>
<text x="528" y="883" textLength="106"><tspan font-weight="bold" font-size="11">ATTENTION:</tspan><tspan font-size="7"> UTILISER</tspan></text>
<text x="528" y="893" font-size="6.5" textLength="99">UN FUSIBLE DE RECHANGE DE</text>
<text x="528" y="902" font-size="6.5" textLength="86">MEME TYPE ET CALIBRE.</text>
</g>
<circle cx="752" cy="862" r="11" fill="#9a9a9a"/>
<text x="752" y="861" text-anchor="middle" font-family="Liberation Serif, serif" font-size="5" fill="#333">QC</text>
<text x="752" y="867" text-anchor="middle" font-family="Liberation Serif, serif" font-size="4.5" fill="#333">PASS</text>

<!-- ============ CONNECTOR LINES ============ -->
<g fill="none" stroke="#1b8fd2" stroke-width="2">
<line x1="257" y1="100" x2="257" y2="153"/>
<line x1="549" y1="100" x2="549" y2="152"/>
<line x1="583" y1="100" x2="583" y2="150"/>
<line x1="623" y1="128" x2="623" y2="150"/>
<line x1="714" y1="100" x2="714" y2="151"/>
<polyline points="838,118 763,118 763,136"/>
<polyline points="838,153 802,153 802,185 665,185"/>
<line x1="770" y1="202" x2="838" y2="202"/>
<line x1="765" y1="244" x2="838" y2="244"/>
<line x1="730" y1="268" x2="838" y2="268"/>
<polyline points="635,257 635,300 838,300"/>
<polyline points="549,283 549,321 838,321"/>
<line x1="765" y1="378" x2="838" y2="378"/>
<line x1="683" y1="407" x2="838" y2="407"/>
<line x1="765" y1="588" x2="838" y2="588"/>
<polyline points="672,592 672,667 838,667"/>
<line x1="165" y1="193" x2="218" y2="193"/>
<line x1="166" y1="251" x2="220" y2="251"/>
<line x1="165" y1="335" x2="219" y2="335"/>
<line x1="165" y1="391" x2="219" y2="391"/>
<line x1="165" y1="493" x2="219" y2="493"/>
<line x1="165" y1="548" x2="219" y2="548"/>
<line x1="165" y1="591" x2="219" y2="591"/>
<line x1="150" y1="862" x2="212" y2="862"/>
</g>
<g fill="none" stroke-width="2">
<line x1="637" y1="471" x2="842" y2="471" stroke="#d8222f"/>
<line x1="637" y1="505" x2="842" y2="505" stroke="#d8222f"/>
<line x1="637" y1="535" x2="842" y2="535" stroke="#a81420"/>
<line x1="593" y1="428" x2="593" y2="690" stroke="#e0303f" stroke-width="1.5"/>
<line x1="655" y1="546" x2="655" y2="685" stroke="#8cc63f"/>
<polyline points="626,598 626,740 795,740" stroke="#111"/>
<polyline points="493,645 493,666 328,666 328,687" stroke="#111"/>
<polyline points="228,564 228,668 168,668" stroke="#111"/>
</g>

<!-- ============ LABELS ============ -->
<g class="l">
<text x="193" y="78" textLength="67">CHANNEL</text>
<text x="193" y="95" textLength="86">SERIAL NUM</text>
<text x="430" y="78" textLength="112">STEREO / MONO</text>
<text x="430" y="95" textLength="132">6.35MM TRS INOUT</text>
<text x="573" y="78" textLength="65">RCA JACK</text>
<text x="573" y="95" textLength="40">INPUT</text>
<text x="620" y="109" textLength="66">RCA JACK</text>
<text x="620" y="125" textLength="57">OUTPUT</text>
<text x="687" y="78" textLength="140">6.35MM TRS STEREO</text>
<text x="687" y="95" textLength="140">AUXILIARY OUTPUT</text>

<text x="843" y="112" textLength="69">DC 12V-1A</text>
<text x="843" y="128" textLength="100">POWER INPUT</text>
<text x="843" y="159" textLength="129">6.35MM TRS JACKS</text>
<text x="843" y="176" textLength="153">HEADPHONE OUTPUT</text>
<text x="843" y="199" textLength="129">6.35MM TRS JACKS</text>
<text x="843" y="215" textLength="116">STEREO OUTPUT</text>
<text x="843" y="238" textLength="128">USB CONNECTION</text>
<text x="843" y="254" textLength="55">SOCKET</text>
<text x="842" y="273" textLength="154">OPERATION BUTTONS</text>
<text x="843" y="290" textLength="137">MULTIFUNCTIONAL</text>
<text x="843" y="307" textLength="85">LED SCREEN</text>
<text x="843" y="327" textLength="138">7/8 CHANNEL &amp; USB</text>
<text x="843" y="343" textLength="112">SIGNAL SWITCH</text>
<text x="843" y="374" textLength="112">7-BAND STEREO</text>
<text x="843" y="391" textLength="150">GRAPHIC EQUALIZER</text>
<text x="843" y="412" textLength="94">AUX 1 /AUX 2</text>
<text x="843" y="428" textLength="59">OUTPUT</text>
<text x="843" y="444" textLength="107">VOLUME LEVEL</text>
<text x="843" y="460" textLength="94">ADJUSTMENT</text>
<text x="848" y="479" textLength="155">REPEAT EFFECT LEVEL</text>
<text x="848" y="509" textLength="88">CD/TAPERET</text>
<text x="848" y="540" textLength="97">EFFECT LEVEL</text>
<text x="843" y="587" textLength="131">L&amp;R MAIN OUTPUT</text>
<text x="843" y="603" textLength="107">VOLUME LEVEL</text>
<text x="843" y="618" textLength="94">ADJUSTMENT</text>
<text x="843" y="671" textLength="110">POWER SWITCH</text>
<text x="803" y="741" textLength="152">HEADPHONE OUTPUT</text>
<text x="803" y="757" textLength="157">VOLUME ADJUSTMENT</text>

<text x="44" y="185" textLength="116">XLR/6.35MM TRS</text>
<text x="44" y="202" textLength="121">MIC INPUT JACKS</text>
<text x="49" y="252" textLength="111">+48V PHANTOM</text>
<text x="49" y="268" textLength="110">POWER SWITCH</text>
<text x="74" y="340" textLength="84">INPUT GAIN</text>
<text x="65" y="387" textLength="80">EQUALIZER</text>
<text x="60" y="403" textLength="93">ADJUSTMENT</text>
<text x="49" y="418" textLength="116">HIGH/MID/BASS</text>
<text x="45" y="478" textLength="102">AUX 1 OUTPUT</text>
<text x="45" y="493" textLength="117">EFFECTOR LEVEL</text>
<text x="45" y="509" textLength="93">ADJUSTMENT</text>
<text x="44" y="537" textLength="103">AUX 2 OUTPUT</text>
<text x="44" y="553" textLength="117">EFFECTOR LEVEL</text>
<text x="44" y="568" textLength="93">ADJUSTMENT</text>
<text x="27" y="598" textLength="133">CHANNEL VOLUME</text>
<text x="27" y="614" textLength="141">LEVEL ADJUSTMENT</text>

<text x="89" y="865">DC 12V</text>
<text x="89" y="882">POWER INPUT</text>
</g>
<g class="c">
<text x="47" y="673" textLength="120">PEAK INDICATOR</text>
<text x="281" y="703" textLength="81">DSP EFFECT</text>
<text x="252" y="719" textLength="143">COMPARISON TABLE</text>
<text x="421" y="703" textLength="187">DSP PROGRAM SELECTION</text>
<text x="449" y="719" textLength="137">(ROTATE TO SELECT</text>
<text x="440" y="735" textLength="143">PRESS TO CONFIRM)</text>
<text x="653" y="703" textLength="99">MAIN OUTPUT</text>
<text x="653" y="719" textLength="93">LEVEL METER</text>
</g>
</svg>
</body></html>
